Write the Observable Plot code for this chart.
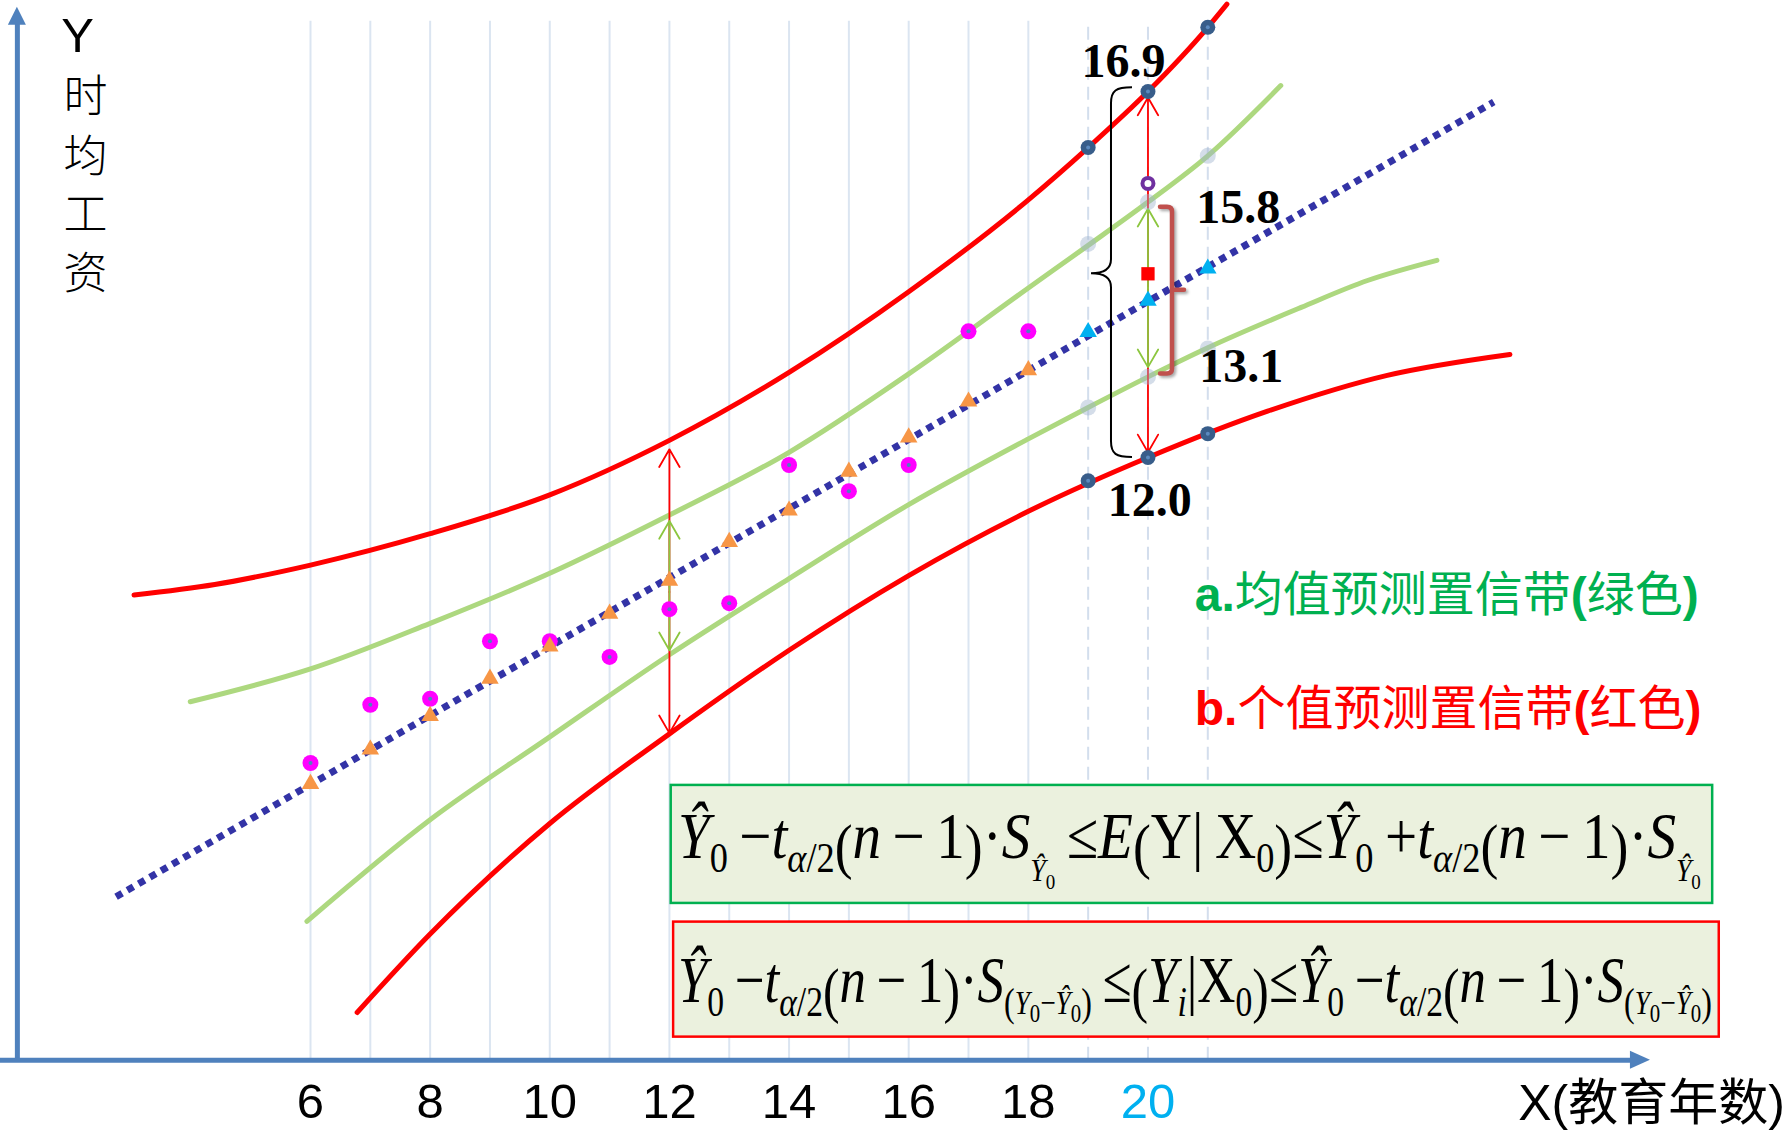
<!DOCTYPE html>
<html><head><meta charset="utf-8">
<script src="https://cdn.jsdelivr.net/npm/d3@7"></script>
<script src="https://cdn.jsdelivr.net/npm/@observablehq/plot@0.6"></script>
<style>html,body{margin:0;padding:0;background:#fff;overflow:hidden}</style>
</head><body><div id="chart"></div>
<script>
// ---- data (x = 教育年数, y = 时均工资) ----
const years  = [6,7,8,9,10,11,12,13,14,15,16,17,18];
const wages  = [7.91,8.69,8.77,9.54,9.54,9.33,9.97,10.05,11.90,11.55,11.90,13.69,13.69];
const fitted = [7.63,8.09,8.54,9.04,9.47,9.91,10.35,10.87,11.29,11.81,12.27,12.75,13.17];
const predYears      = [19,20,21];
const predFitted     = [13.68,14.10,14.53];
const predUpperRed   = [16.15,16.90,17.76];
const predLowerRed   = [11.69,12.00,12.32];
const predUpperGreen = [14.86,15.42,16.04];
const predLowerGreen = [12.67,13.08,13.46];
const regX = [2.75, 25.78];
const regY = [6.12, 16.76];
const redUpperX = [3.05,4.4,6,8,10,12,14,16,18,19,20,21,21.32];
const redUpperY = [10.16,10.30,10.56,10.98,11.50,12.23,13.14,14.22,15.45,16.15,16.90,17.76,18.07];
const redLowerX = [6.78,8,10,12,14,16,18,20,22,24,26.05];
const redLowerY = [4.57,5.62,7.10,8.30,9.42,10.42,11.28,12.00,12.62,13.10,13.38];
const greenUpperX = [3.99,6,8,10,12,14,16,18,19,20,21,22.22];
const greenUpperY = [8.73,9.17,9.78,10.45,11.23,12.07,13.12,14.27,14.84,15.42,16.04,16.98];
const greenLowerX = [5.94,8,10,12,14,16,18,19,20,21,22.56,23.67,24.83];
const greenLowerY = [5.79,7.15,8.26,9.36,10.38,11.37,12.25,12.67,13.08,13.47,14.01,14.37,14.64];
const x0Value = 20;
const meanPoint = 14.46;      // red square
const obsPoint  = 15.67;      // purple ring
const redArrowX = [12,12,20,20],  redArrowFrom = [10.20,10.20,14.45,14.45], redArrowTo = [12.11,8.31,16.82,12.07];
const grnArrowX = [12,12,20,20],  grnArrowFrom = [10.27,10.27,14.27,14.27], grnArrowTo = [11.15,9.42,15.33,13.21];
const gridYears = [6,7,8,9,10,11,12,13,14,15,16,17,18,19,20,21];
const xTicks = [6,8,10,12,14,16,18,20];
const xTickLabels = ["6","8","10","12","14","16","18","20"];
const valueLabels = ["16.9","15.8","13.1","12.0"];
const valueLabelX = [19.59,21.51,21.56,20.03];
const valueLabelY = [17.30,15.35,13.22,11.42];
const yTitleChars = ["时","均","工","资"];
const yTitleCharY = [16.81,16.01,15.23,14.45];
const legendTexts = [["a.","均值预测置信带","绿色"],["b.","个值预测置信带","红色"]];
const legendY = [10.17, 8.64];
const boxX1 = [12.03,12.07], boxX2 = [29.44,29.55], boxY1 = [7.61,5.78], boxY2 = [6.03,4.24];
const boxStroke = ["#00b050","#ff0000"];

// ---- frame ----
const W = 1790, H = 1140;
const axisYval = 3.93, axisXval = 1.10, gridTop = 17.84;

const plot = Plot.plot({
  width: W, height: H, margin: 0,
  x: {domain: [0.8178, 30.741], axis: null},
  y: {domain: [2.856, 18.119], axis: null},
  style: {background: "white", overflow: "visible"},
  marks: [
    Plot.ruleX(gridYears.filter(d => d <= 18), {y1: axisYval, y2: gridTop, stroke: "#dbe5f1", strokeWidth: 2}),
    Plot.ruleX(gridYears.filter(d => d > 18), {y1: axisYval, y2: gridTop, stroke: "#d3deed", strokeWidth: 2, strokeDasharray: "13,7"}),
    Plot.line(greenUpperX, {x: greenUpperX, y: greenUpperY, curve: "monotone-x", stroke: "#add87f", strokeWidth: 5}),
    Plot.line(greenLowerX, {x: greenLowerX, y: greenLowerY, curve: "monotone-x", stroke: "#add87f", strokeWidth: 5}),
    Plot.line(redUpperX, {x: redUpperX, y: redUpperY, curve: "monotone-x", stroke: "#ff0000", strokeWidth: 5}),
    Plot.line(redLowerX, {x: redLowerX, y: redLowerY, curve: "monotone-x", stroke: "#ff0000", strokeWidth: 5}),
    Plot.line(regX, {x: regX, y: regY, stroke: "#3333a6", strokeWidth: 7, strokeDasharray: "7,6", strokeLinecap: "butt"}),
    Plot.arrow(redArrowX, {x1: redArrowX, y1: redArrowFrom, x2: redArrowX, y2: redArrowTo, stroke: "#ff0000", strokeWidth: 1.8, headLength: 17}),
    Plot.arrow(grnArrowX, {x1: grnArrowX, y1: grnArrowFrom, x2: grnArrowX, y2: grnArrowTo, stroke: "#8cc63f", strokeWidth: 1.8, headLength: 17}),
    Plot.dot(years, {x: years, y: wages, r: 8, fill: "#ff00ff"}),
    Plot.dot(years, {x: years, y: wages, r: 2, fill: "#4f81bd"}),
    Plot.dot(years, {x: years, y: fitted, symbol: "triangle", r: 6.5, fill: "#f79646"}),
    Plot.dot(predYears, {x: predYears, y: predFitted, symbol: "triangle", r: 6.5, fill: "#00b0f0"}),
    Plot.dot(predYears, {x: predYears, y: predUpperGreen, r: 8, fill: "#9fb4cf", fillOpacity: 0.45}),
    Plot.dot(predYears, {x: predYears, y: predLowerGreen, r: 8, fill: "#9fb4cf", fillOpacity: 0.45}),
    Plot.dot(predYears, {x: predYears, y: predUpperRed, r: 7.5, fill: "#385d8a"}),
    Plot.dot(predYears, {x: predYears, y: predLowerRed, r: 7.5, fill: "#385d8a"}),
    Plot.dot(predYears, {x: predYears, y: predUpperRed, r: 2, fill: "#5b8ac0"}),
    Plot.dot(predYears, {x: predYears, y: predLowerRed, r: 2, fill: "#5b8ac0"}),
    Plot.dot([x0Value], {x: x0Value, y: obsPoint, r: 5.5, fill: "white", stroke: "#7030a0", strokeWidth: 4}),
    Plot.dot([x0Value], {x: x0Value, y: meanPoint, symbol: "square", r: 7.5, fill: "#ff0000"}),
    Plot.rect([0,1], {x1: boxX1, x2: boxX2, y1: boxY1, y2: boxY2, fill: "#ebf1de", stroke: boxStroke, strokeWidth: 2.5}),
    Plot.ruleX([axisXval], {y1: 3.90, y2: 17.82, stroke: "#4f81bd", strokeWidth: 5}),
    Plot.ruleY([axisYval], {x1: 0.77, x2: 28.1, stroke: "#4f81bd", strokeWidth: 5}),
    Plot.text(xTicks, {x: xTicks, y: 3.365, text: xTickLabels, fill: d => d === 20 ? "#00b0f0" : "#000000", fontSize: 49, fontFamily: "Liberation Sans, Arial, sans-serif"}),
    Plot.text(["X(教育年数)"], {x: 26.19, y: 3.35, text: d => d, textAnchor: "start", fill: "#000000", fontSize: 50, fontFamily: "Liberation Sans, Noto Sans CJK SC, sans-serif"}),
    Plot.text(["Y"], {x: 2.105, y: 17.64, text: d => d, fill: "#000000", fontSize: 49, fontFamily: "Liberation Sans, Arial, sans-serif"}),
    Plot.text(yTitleChars, {x: 2.24, y: yTitleCharY, text: d => d, fill: "#000000", fontSize: 44, fontWeight: 300, fontFamily: "Noto Sans CJK SC, sans-serif"}),
    Plot.text(valueLabels, {x: valueLabelX, y: valueLabelY, text: d => d, fill: "#000000", fontSize: 48, fontWeight: "bold", fontFamily: "Liberation Serif, Times New Roman, serif"})
  ]
});
document.getElementById("chart").append(plot);

// ---- annotations through the plot's scales ----
const X = plot.scale("x"), Y = plot.scale("y");
const svg = d3.select(plot);
const px = v => X.apply(v), py = v => Y.apply(v);

// axis arrow heads
{
  const tx = px(axisXval), ty = py(18.03);
  svg.append("path").attr("d", `M${tx},${ty} L${tx-9},${ty+18} L${tx+9},${ty+18} Z`).attr("fill", "#4f81bd");
  const hx = px(28.40), hy = py(axisYval);
  svg.append("path").attr("d", `M${hx},${hy} L${hx-20},${hy-9} L${hx-20},${hy+9} Z`).attr("fill", "#4f81bd");
}

// black curly brace spanning the individual-value interval at X0
{
  const sx = px(19.39), t = py(16.95), b = py(12.0), m = py(14.46);
  const d = `M${sx+21},${t} C${sx+5},${t} ${sx},${t+3} ${sx},${t+16} L${sx},${m-14} C${sx},${m-4} ${sx-8},${m} ${sx-20},${m} C${sx-8},${m} ${sx},${m+4} ${sx},${m+14} L${sx},${b-16} C${sx},${b-3} ${sx+5},${b} ${sx+21},${b}`;
  svg.append("path").attr("d", d).attr("fill", "none").attr("stroke", "#000").attr("stroke-width", 2);
}
// red square bracket spanning the mean interval at X0
{
  const bx = px(20.41), t = py(15.35), b = py(13.12), m = py(14.24);
  const d = `M${bx-12},${t} L${bx-5},${t} Q${bx},${t} ${bx},${t+5} L${bx},${b-5} Q${bx},${b} ${bx-5},${b} L${bx-12},${b} M${bx},${m} L${bx+12},${m}`;
  svg.append("path").attr("d", d).attr("fill", "none").attr("stroke", "#c0504d").attr("stroke-width", 4.5)
    .attr("stroke-linecap", "round").style("filter", "drop-shadow(2px 2px 1.5px rgba(0,0,0,0.35))");
}

// legend lines
legendTexts.forEach(([lab, body, col], i) => {
  const color = i === 0 ? "#00b050" : "#ff0000";
  const t = svg.append("text").attr("x", px(20.79)).attr("y", py(legendY[i])).attr("dy", "0.36em")
    .attr("text-anchor", "start").attr("fill", color).attr("font-size", 48);
  t.append("tspan").attr("font-family", "Liberation Sans, Arial, sans-serif").attr("font-weight", "bold").text(lab);
  t.append("tspan").attr("font-family", "Noto Sans CJK SC, sans-serif").text(body);
  t.append("tspan").attr("font-family", "Liberation Sans, Arial, sans-serif").attr("font-weight", "bold").text("(");
  t.append("tspan").attr("font-family", "Noto Sans CJK SC, sans-serif").text(col);
  t.append("tspan").attr("font-family", "Liberation Sans, Arial, sans-serif").attr("font-weight", "bold").text(")");
});

// formulas
function formula(xv, yv, width, pieces) {
  const t = svg.append("text").attr("x", px(xv)).attr("y", py(yv)).attr("text-anchor", "start")
    .attr("font-family", "Liberation Serif, Times New Roman, serif").attr("fill", "#000")
    .attr("textLength", width).attr("lengthAdjust", "spacingAndGlyphs");
  let cur = 0;
  for (const [s, size, off, it] of pieces) {
    t.append("tspan").attr("font-size", size).attr("font-style", it ? "italic" : "normal")
      .attr("dy", off - cur).text(s);
    cur = off;
  }
}
const M = 66, s = 42, P = 62;
const tPart = [["t",M,0,true],["α",s,14,true],["/2",s,14,false],["(",P,9],["n",M,0,true],["\u2009−\u20091",M,0],[")",P,9],["·",M,0],["S",M,0,true]];
const sYhat = [["Ŷ",32,23,true],["0",22,31,false]];
const sDiff = [["(",40,14],["Y",34,12,true],["0",26,20],["−",34,12],["Ŷ",34,12,true],["0",26,20],[")",40,14]];
formula(12.15, 6.63, 1023, [
  ["Ŷ",M,0,true],["0",s,14],["\u2009−",M,0], ...tPart, ...sYhat,
  ["\u2009≤",M,0],["E",M,0,true],["(",P,9],["Y",M,0],["|",M,0],["\u2009X",M,0],["0",s,14],[")",P,9],["≤",M,0],
  ["Ŷ",M,0,true],["0",s,14],["\u2009+",M,0], ...tPart, ...sYhat
]);
formula(12.15, 4.70, 1034, [
  ["Ŷ",M,0,true],["0",s,14],["\u2009−",M,0], ...tPart, ...sDiff,
  ["\u2009≤",M,0],["(",P,9],["Y",M,0,true],["i",s,14,true],["|",M,0],["X",M,0],["0",s,14],[")",P,9],["≤",M,0],
  ["Ŷ",M,0,true],["0",s,14],["\u2009−",M,0], ...tPart, ...sDiff
]);
</script>
</body></html>
